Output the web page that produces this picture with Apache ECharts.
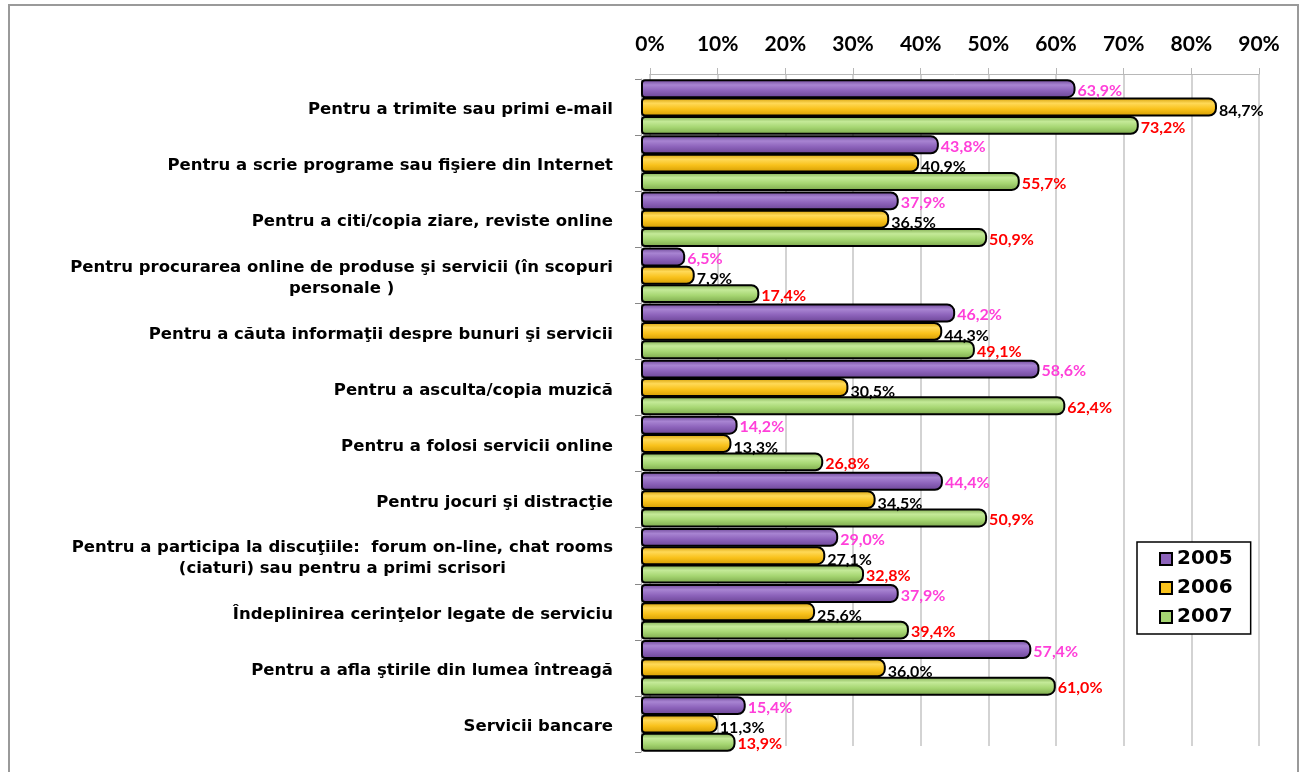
<!DOCTYPE html>
<html>
<head>
<meta charset="utf-8">
<script src="https://cdn.jsdelivr.net/npm/echarts@6/dist/echarts.min.js"></script>
<style>
  html, body { margin: 0; padding: 0; background: #fff; }
  #chart { width: 1304px; height: 772px; }
</style>
</head>
<body>
<div id="chart"></div>
<script>
var categories = [
    'Pentru a trimite sau primi e-mail',
    'Pentru a scrie programe sau fişiere din Internet',
    'Pentru a citi/copia ziare, reviste online',
    'Pentru procurarea online de produse şi servicii (în scopuri\npersonale )',
    'Pentru a căuta informaţii despre bunuri şi servicii',
    'Pentru a asculta/copia muzică',
    'Pentru a folosi servicii online',
    'Pentru jocuri şi distracţie',
    'Pentru a participa la discuţiile:  forum on-line, chat rooms\n(ciaturi) sau pentru a primi scrisori',
    'Îndeplinirea cerinţelor legate de serviciu',
    'Pentru a afla ştirile din lumea întreagă',
    'Servicii bancare'
];
var years = ['2005', '2006', '2007'];
var values2005 = [63.9, 43.8, 37.9, 6.5, 46.2, 58.6, 14.2, 44.4, 29.0, 37.9, 57.4, 15.4];
var values2006 = [84.7, 40.9, 36.5, 7.9, 44.3, 30.5, 13.3, 34.5, 27.1, 25.6, 36.0, 11.3];
var values2007 = [73.2, 55.7, 50.9, 17.4, 49.1, 62.4, 26.8, 50.9, 32.8, 39.4, 61.0, 13.9];
var xTicks = [0, 10, 20, 30, 40, 50, 60, 70, 80, 90];

var dom = document.getElementById('chart');
var myChart = echarts.init(dom);

function cyl(dark, light, mid) {
    return new echarts.graphic.LinearGradient(0, 0, 0, 1, [
        { offset: 0, color: dark },
        { offset: 0.3, color: light },
        { offset: 0.6, color: mid },
        { offset: 1, color: dark }
    ]);
}

var styles = [
    { fill: cyl('#6a4494', '#a884d2', '#8d63bb'), solid: '#8d63bb', label: '#ff3fd9' },
    { fill: cyl('#d19a00', '#ffd957', '#f9c21c'), solid: '#f9c21c', label: '#000000' },
    { fill: cyl('#7aa64a', '#c4ea98', '#a6d672'), solid: '#a6d672', label: '#ff0000' }
];
var seriesData = [values2005, values2006, values2007];

function fmt(p) {
    return p.value.toFixed(1).replace('.', ',') + '%';
}

var series = seriesData.map(function (d, i) {
    return {
        name: years[i],
        type: 'bar',
        xAxisIndex: 1,
        yAxisIndex: 1,
        data: d,
        barGap: '-3%',
        barCategoryGap: '1%',
        itemStyle: {
            color: styles[i].fill,
            borderColor: '#000',
            borderWidth: 2,
            borderRadius: [3, 7, 7, 3]
        },
        label: {
            show: true,
            position: 'right',
            distance: 2,
            offset: [0, i === 1 ? 4 : 2],
            formatter: fmt,
            color: styles[i].label,
            fontFamily: 'Lato',
            fontWeight: 'bold',
            fontSize: 16
        }
    };
});

option = {
    animation: false,
    backgroundColor: '#fff',
    graphic: [{
        type: 'rect',
        shape: { x: 9, y: 5, width: 1289, height: 800 },
        style: { fill: 'none', stroke: '#9a9a9a', lineWidth: 2 },
        silent: true
    }],
    legend: {
        data: years.map(function (y, i) {
            return { name: y, itemStyle: { color: styles[i].solid, borderColor: '#000', borderWidth: 2 } };
        }),
        orient: 'vertical',
        left: 1137,
        top: 542,
        icon: 'rect',
        itemWidth: 12,
        itemHeight: 12,
        itemGap: 9,
        padding: [7, 18, 7, 22],
        borderColor: '#000',
        borderWidth: 1.5,
        backgroundColor: '#fff',
        textStyle: {
            fontFamily: 'DejaVu Sans',
            fontWeight: 'bold',
            fontSize: 20,
            color: '#000'
        }
    },
    grid: [
        { left: 650, right: 45, top: 74, bottom: 26 },
        { left: 641, right: 51, top: 79, bottom: 20 }
    ],
    xAxis: [{
        gridIndex: 0,
        type: 'value',
        position: 'top',
        min: 0,
        max: 90,
        interval: 10,
        axisLine: { show: true, lineStyle: { color: '#b8b8b8' } },
        axisTick: { show: true, length: 6, lineStyle: { color: '#b8b8b8' } },
        splitLine: { show: true, lineStyle: { color: '#c4c4c4', width: 1.5 } },
        axisLabel: {
            margin: 19,
            color: '#000',
            fontFamily: 'Lato',
            fontWeight: 'bold',
            fontSize: 21,
            formatter: function (v) { return xTicks.indexOf(v) >= 0 ? v + '%' : ''; }
        }
    }, {
        gridIndex: 1,
        type: 'value',
        min: 0,
        max: 90,
        interval: 10,
        show: false
    }],
    yAxis: [{
        gridIndex: 0,
        type: 'category',
        data: categories,
        inverse: true,
        axisLine: { show: true, lineStyle: { color: '#c4c4c4' } },
        axisTick: { show: false },
        axisLabel: { show: false }
    }, {
        gridIndex: 1,
        type: 'category',
        data: categories,
        inverse: true,
        axisLine: { show: true, lineStyle: { color: '#b0b0b0' } },
        axisTick: { show: true, length: 6, inside: false, lineStyle: { color: '#888' } },
        axisLabel: {
            margin: 28,
            formatter: function (v) {
                return v.split('\n').map(function (s) { return '{a|' + s + '}'; }).join('\n');
            },
            rich: {
                a: {
                    align: 'center',
                    fontFamily: 'DejaVu Sans',
                    fontWeight: 'bold',
                    fontSize: 16.5,
                    lineHeight: 21,
                    color: '#000',
                    padding: [6, 0, 0, 0]
                }
            }
        }
    }],
    series: series
};

if (option && typeof option === 'object') {
    myChart.setOption(option, true);
}
</script>
</body>
</html>
